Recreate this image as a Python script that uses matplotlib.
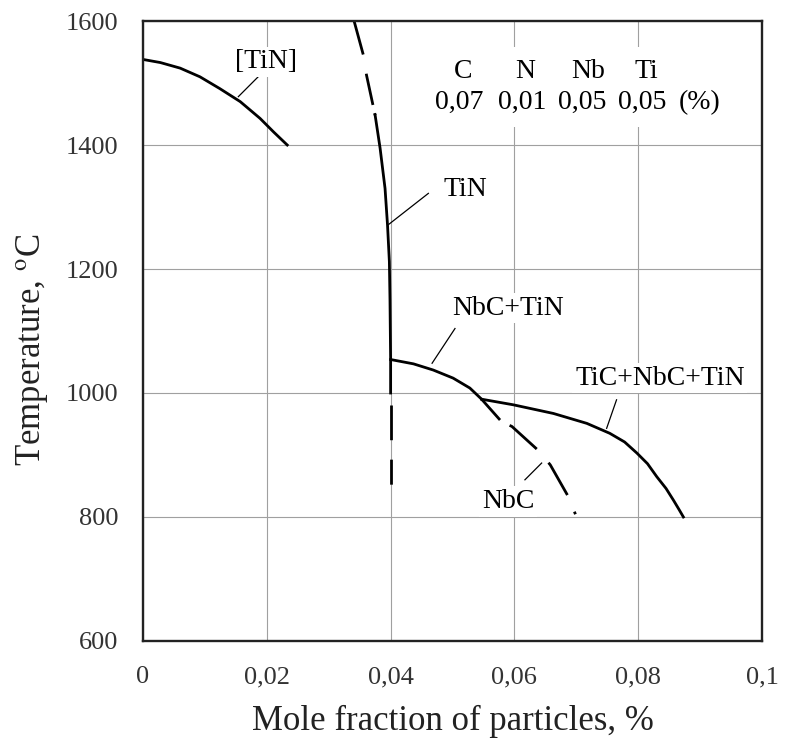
import matplotlib
matplotlib.use("Agg")
import matplotlib.pyplot as plt

plt.rcParams['font.family'] = ['Liberation Serif', 'DejaVu Serif']
plt.rcParams['mathtext.fontset'] = 'stix'
plt.rcParams['lines.scale_dashes'] = False

# ---- data ----
x_ticks = [0, 0.02, 0.04, 0.06, 0.08, 0.1]
x_tick_labels = ['0', '0,02', '0,04', '0,06', '0,08', '0,1']
y_ticks = [600, 800, 1000, 1200, 1400, 1600]

# [TiN] (solid)
tin_sol_x = [0.0, 0.0028, 0.0060, 0.0092, 0.0124, 0.0157, 0.0189, 0.0211, 0.0233]
tin_sol_y = [1538, 1533, 1524, 1510, 1491, 1470, 1443, 1421, 1400]

# TiN curve: dashed top, solid middle, dashed bottom
tin_top_x = [0.0341, 0.0356, 0.0361, 0.0372, 0.0375]
tin_top_y = [1600, 1545, 1513, 1462, 1448]
tin_mid_x = [0.0375, 0.0383, 0.0391, 0.0395, 0.0398, 0.0399, 0.0400, 0.0400]
tin_mid_y = [1448, 1395, 1330, 1271, 1212, 1150, 1055, 1000]
tin_low_x = [0.0400, 0.0400]
tin_low_y = [981, 852]

# NbC+TiN (solid) and its continuation NbC (dashed)
nbc_tin_x = [0.0400, 0.0437, 0.0469, 0.0501, 0.0528, 0.0547]
nbc_tin_y = [1054, 1047, 1037, 1024, 1008, 990]
nbc_x = [0.0547, 0.0579, 0.0596, 0.0639, 0.0658, 0.0687, 0.0700]
nbc_y = [990, 954, 946, 907, 884, 833, 801]

# TiC+NbC+TiN (solid)
tic_x = [0.0547, 0.0598, 0.0663, 0.0717, 0.0754, 0.0778, 0.0798, 0.0815, 0.0830,
         0.0845, 0.0857, 0.0866, 0.0873]
tic_y = [990, 981, 967, 951, 935, 921, 903, 886, 865, 846, 827, 812, 800]

# composition of the steel
elements = ['C', 'N', 'Nb', 'Ti']
contents = ['0,07', '0,01', '0,05', '0,05']

fig = plt.figure(figsize=(7.88, 7.4), dpi=100)
ax = fig.add_axes([0.1815, 0.1338, 0.7855, 0.8378])

lw = 2.0
ax.plot(tin_sol_x, tin_sol_y, color='black', lw=lw)
ax.plot(tin_top_x, tin_top_y, color='black', lw=lw, linestyle=(0, (25, 14, 23, 6)))
ax.plot(tin_mid_x, tin_mid_y, color='black', lw=lw)
ax.plot(tin_low_x, tin_low_y, color='black', lw=lw, linestyle=(0, (25, 14, 18, 60)))
ax.plot(nbc_tin_x, nbc_tin_y, color='black', lw=lw)
ax.plot(nbc_x, nbc_y, color='black', lw=lw,
        linestyle=(0, (20, 8, 26, 13, 27, 13, 2, 40)))
ax.plot(tic_x, tic_y, color='black', lw=lw)

# leader lines for the labels
lead = dict(color='black', lw=0.9)
ax.plot([0.0154, 0.0186], [1478, 1510], **lead)
ax.plot([0.0397, 0.0461], [1272, 1322], **lead)
ax.plot([0.0467, 0.0504], [1048, 1104], **lead)
ax.plot([0.0749, 0.0765], [943, 989], **lead)
ax.plot([0.0617, 0.0644], [860, 887], **lead)

box = dict(facecolor='white', edgecolor='none', pad=2)
fs = 20
ax.text(0.0199, 1534, '[TiN]', fontsize=fs, ha='center', va='center', bbox=box)
ax.text(0.0520, 1328, 'TiN', fontsize=fs, ha='center', va='center')
ax.text(0.0590, 1137, 'NbC+TiN', fontsize=fs, ha='center', va='center', bbox=box)
ax.text(0.0835, 1024, 'TiC+NbC+TiN', fontsize=fs, ha='center', va='center', bbox=box)
ax.text(0.0590, 825, 'NbC', fontsize=fs, ha='center', va='center', bbox=box)

head_x = [0.0517, 0.0617, 0.0719, 0.0814]
val_x = [0.0510, 0.0612, 0.0710, 0.0806]
colbox = dict(facecolor='white', edgecolor='none', pad=9)
# white backing boxes first (hide the grid), then the text on top
for layer, z in (('box', 3), ('text', 4)):
    for hx, vx, el, ct in zip(head_x, val_x, elements, contents):
        for xx, yy, s in ((hx, 1518, el), (vx, 1469, ct)):
            if layer == 'box':
                ax.text(xx, yy, s, fontsize=fs, ha='center', va='center',
                        color='white', bbox=colbox, zorder=z)
            else:
                ax.text(xx, yy, s, fontsize=fs, ha='center', va='center', zorder=z)
ax.text(0.0900, 1469, '(%)', fontsize=fs, ha='center', va='center', zorder=4)

ax.set_xlim(0, 0.1)
ax.set_ylim(600, 1600)
ax.set_xticks(x_ticks)
ax.set_xticklabels(x_tick_labels)
ax.set_yticks(y_ticks)
ax.tick_params(length=0, labelsize=19, pad=18, colors='#333333')
ax.grid(True, color='#a0a0a0', lw=0.8)
ax.set_axisbelow(True)
for s in ax.spines.values():
    s.set_linewidth(1.7)
    s.set_color('#222222')

ax.set_xlabel('Mole fraction of particles, %', fontsize=25, labelpad=12, color='#222222')
ax.set_ylabel(r'Temperature, $^{\mathrm{o}}$C', fontsize=25, color='#222222')
ax.yaxis.set_label_coords(-0.15, 0.47)

fig.savefig('out.png', dpi=100)
